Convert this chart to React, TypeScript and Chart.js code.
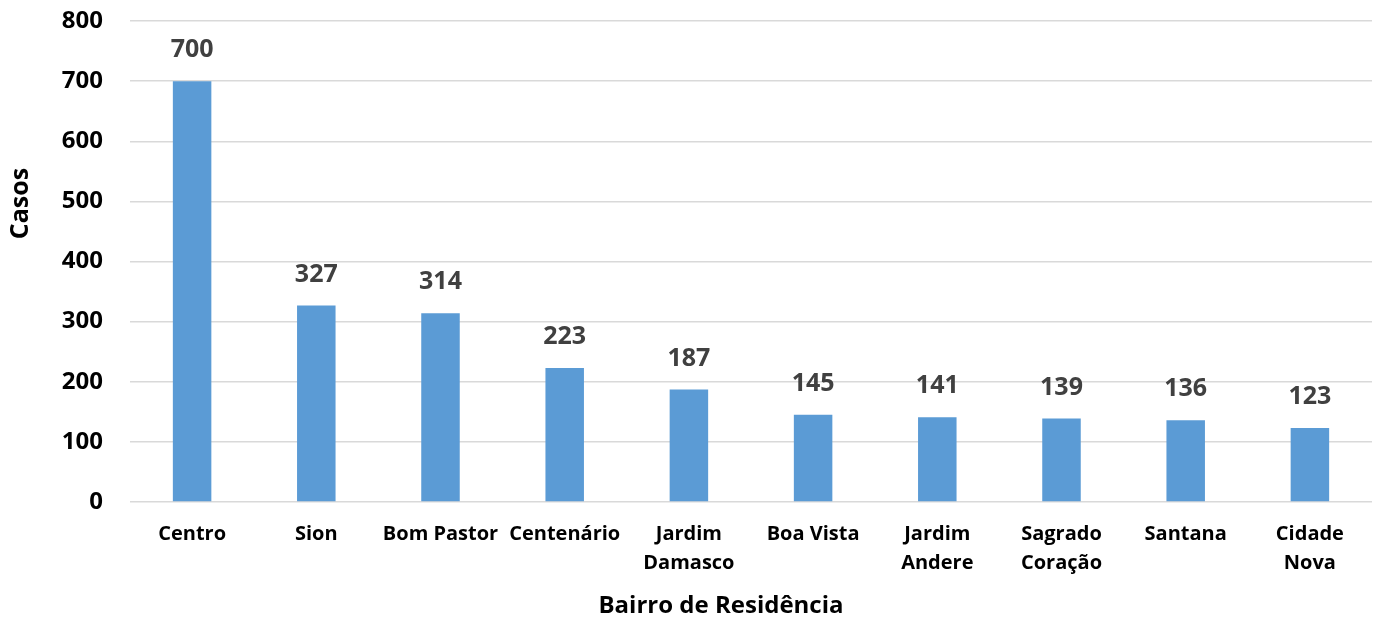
import React, { useEffect, useRef } from "react";
import { Chart, registerables } from "chart.js";

Chart.register(...registerables);

const categories: (string | string[])[] = [
  "Centro",
  "Sion",
  "Bom Pastor",
  "Centenário",
  ["Jardim", "Damasco"],
  "Boa Vista",
  ["Jardim", "Andere"],
  ["Sagrado", "Coração"],
  "Santana",
  ["Cidade", "Nova"],
];
const casos: number[] = [700, 327, 314, 223, 187, 145, 141, 139, 136, 123];
const yTicks: number[] = [0, 100, 200, 300, 400, 500, 600, 700, 800];
const xTitle = "Bairro de Residência";
const yTitle = "Casos";

const FONT = "'Open Sans', Lato, sans-serif";

const labelPlugin = {
  id: "barLabels",
  afterDatasetsDraw(chart: any) {
    const ctx = chart.ctx;
    const meta = chart.getDatasetMeta(0);
    ctx.save();
    ctx.font = `bold 25px ${FONT}`;
    ctx.fillStyle = "#404040";
    ctx.textAlign = "center";
    ctx.textBaseline = "middle";
    meta.data.forEach((el: any, i: number) => {
      ctx.fillText(String(casos[i]), el.x, el.y - 31);
    });
    ctx.restore();
  },
  afterDraw(chart: any) {
    const ctx = chart.ctx;
    const a = chart.chartArea;
    ctx.save();
    ctx.fillStyle = "#000000";
    ctx.textAlign = "center";
    ctx.textBaseline = "middle";
    ctx.font = `bold 24px ${FONT}`;
    ctx.fillText(xTitle, (a.left + a.right) / 2 - 30, chart.height - 18);
    ctx.font = `bold 25px ${FONT}`;
    ctx.translate(21, (a.top + a.bottom) / 2 - 58);
    ctx.rotate(-Math.PI / 2);
    ctx.fillText(yTitle, 0, 0);
    ctx.restore();
  },
};

export default function App() {
  const ref = useRef<HTMLCanvasElement | null>(null);
  useEffect(() => {
    if (!ref.current) return;
    const chart = new Chart(ref.current, {
      type: "bar",
      data: {
        labels: categories,
        datasets: [
          {
            data: casos,
            backgroundColor: "#5B9BD5",
            categoryPercentage: 1,
            barPercentage: 0.31,
          },
        ],
      },
      options: {
        animation: false,
        responsive: false,
        maintainAspectRatio: false,
        layout: { padding: { top: 21, right: 12, left: 0, bottom: 0 } },
        plugins: { legend: { display: false }, tooltip: { enabled: false } },
        scales: {
          x: {
            grid: { display: false },
            border: { display: false },
            ticks: {
              color: "#000000",
              font: { family: FONT, size: 20, weight: "bold", lineHeight: 1.45 },
              maxRotation: 0,
              autoSkip: false,
              padding: 10,
            },
            title: { display: false },
            afterFit(scale: any) {
              scale.height = 122;
              scale.paddingLeft = 0;
              scale.paddingRight = 0;
            },
          },
          y: {
            min: 0,
            max: 800,
            afterBuildTicks(scale: any) {
              scale.ticks = yTicks.map((v) => ({ value: v }));
            },
            grid: { color: "#D9D9D9", lineWidth: 1.5, drawTicks: false },
            border: { display: false },
            ticks: {
              color: "#000000",
              font: { family: FONT, size: 24, weight: "bold" },
              padding: 27,
            },
            title: { display: false },
            afterFit(scale: any) {
              scale.width = 130;
              scale.paddingTop = 0;
              scale.paddingBottom = 0;
            },
          },
        },
      },
      plugins: [labelPlugin],
    });
    return () => chart.destroy();
  }, []);
  return (
    <div style={{ position: "absolute", left: 0, top: 0, width: 1384, height: 624, background: "#fff" }}>
      <canvas ref={ref} width={1384} height={624} />
    </div>
  );
}
